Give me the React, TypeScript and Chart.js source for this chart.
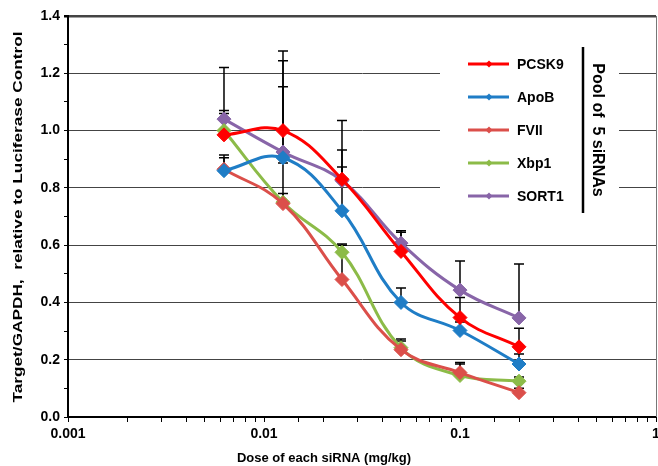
import React, { useEffect, useRef } from "react";
import { Chart, registerables } from "chart.js";

Chart.register(...registerables);

const doses = [0.00625, 0.0125, 0.025, 0.05, 0.1, 0.2];
const seriesNames = ["PCSK9", "ApoB", "FVII", "Xbp1", "SORT1"];
const seriesColors = ["#FF0000", "#1F7DC6", "#DB4F4A", "#8CBB48", "#8865A8"];

const pcsk9 = [0.985, 1.0, 0.83, 0.578, 0.347, 0.245];
const apob = [0.86, 0.905, 0.72, 0.4, 0.302, 0.185];
const fvii = [0.865, 0.745, 0.48, 0.235, 0.155, 0.085];
const xbp1 = [1.0, 0.75, 0.575, 0.242, 0.145, 0.125];
const sort1 = [1.04, 0.925, 0.825, 0.607, 0.443, 0.346];

const pcsk9Err = [0.075, 0.278, 0.205, 0.067, 0.07, 0.065];
const apobErr = [0.045, 0.248, 0.153, 0.05, 0.03, 0.035];
const fviiErr = [0.05, 0.142, 0.12, 0.03, 0.035, 0.015];
const xbp1Err = [0.07, 0.03, 0.029, 0.03, 0.04, 0.015];
const sort1Err = [0.18, 0.319, 0.107, 0.043, 0.102, 0.188];

const yTicks = [0, 0.2, 0.4, 0.6, 0.8, 1.0, 1.2, 1.4];
const xTickLabels = ["0.001", "0.01", "0.1", "1"];
const legendNote = "Pool of  5 siRNAs";
const yTitle = "Target/GAPDH,  relative to Luciferase Control";
const xTitle = "Dose of each siRNA (mg/kg)";

const allValues = [pcsk9, apob, fvii, xbp1, sort1];
const allErrors = [pcsk9Err, apobErr, fviiErr, xbp1Err, sort1Err];

const FONT = "'Liberation Sans', Arial, sans-serif";
const CANVAS_W = 664;

export default function App() {
  const ref = useRef<HTMLCanvasElement | null>(null);

  useEffect(() => {
    const canvas = ref.current;
    if (!canvas) return;

    const errorBars = {
      id: "errorBars",
      beforeDatasetsDraw(chart: any) {
        const ctx = chart.ctx;
        const xs = chart.scales.x;
        const ys = chart.scales.y;
        ctx.save();
        ctx.strokeStyle = "#000";
        ctx.lineWidth = 1.5;
        allValues.forEach((vals, si) => {
          const errs = allErrors[si];
          vals.forEach((v, i) => {
            const e = errs[i];
            if (!e) return;
            const px = xs.getPixelForValue(doses[i]);
            const y0 = ys.getPixelForValue(v);
            const y1 = ys.getPixelForValue(v + e);
            ctx.beginPath();
            ctx.moveTo(px, y0);
            ctx.lineTo(px, y1);
            ctx.moveTo(px - 5, y1);
            ctx.lineTo(px + 5, y1);
            ctx.stroke();
          });
        });
        ctx.restore();
      },
    };

    const legendBox = {
      id: "legendBox",
      beforeDatasetsDraw(chart: any) {
        const ctx = chart.ctx;
        ctx.save();
        ctx.fillStyle = "#fff";
        ctx.fillRect(440, 28, 179, 208);
        seriesNames.forEach((name, i) => {
          const y = 64 + i * 33;
          ctx.strokeStyle = seriesColors[i];
          ctx.lineWidth = 3;
          ctx.beginPath();
          ctx.moveTo(468, y);
          ctx.lineTo(509, y);
          ctx.stroke();
          ctx.fillStyle = seriesColors[i];
          ctx.beginPath();
          ctx.moveTo(489, y - 3.5);
          ctx.lineTo(492.5, y);
          ctx.lineTo(489, y + 3.5);
          ctx.lineTo(485.5, y);
          ctx.closePath();
          ctx.fill();
          ctx.fillStyle = "#000";
          ctx.font = `bold 14px ${FONT}`;
          ctx.textAlign = "left";
          ctx.textBaseline = "middle";
          ctx.fillText(name, 517, y + 1);
        });
        ctx.strokeStyle = "#000";
        ctx.lineWidth = 2.5;
        ctx.beginPath();
        ctx.moveTo(583, 47);
        ctx.lineTo(583, 213);
        ctx.stroke();
        ctx.translate(597, 130);
        ctx.rotate(Math.PI / 2);
        ctx.fillStyle = "#000";
        ctx.font = `bold 16px ${FONT}`;
        ctx.textAlign = "center";
        ctx.textBaseline = "middle";
        ctx.fillText(legendNote, 0, 0);
        ctx.restore();

        // right frame
        const a = chart.chartArea;
        ctx.save();
        ctx.strokeStyle = "#777";
        ctx.lineWidth = 1;
        ctx.beginPath();
        ctx.moveTo(a.right + 0.5, a.top);
        ctx.lineTo(a.right + 0.5, a.bottom);
        ctx.stroke();
        ctx.restore();
      },
      afterDraw(chart: any) {
        const ctx = chart.ctx;
        ctx.save();
        ctx.font = `bold 13px ${FONT}`;
        const w = ctx.measureText(yTitle).width;
        const sx = 371 / w;
        ctx.translate(18, 217);
        ctx.rotate(-Math.PI / 2);
        ctx.scale(sx, 1);
        ctx.fillStyle = "#000";
        ctx.textAlign = "center";
        ctx.textBaseline = "middle";
        ctx.fillText(yTitle, 0, 0);
        ctx.restore();

        ctx.save();
        ctx.font = `bold 13px ${FONT}`;
        ctx.fillStyle = "#000";
        ctx.textAlign = "center";
        ctx.textBaseline = "middle";
        ctx.fillText(xTitle, 324, 458);
        ctx.restore();
      },
    };

    const isMajorY = (v: number) => yTicks.some((t) => Math.abs(t - v) < 1e-6);

    const chart = new Chart(canvas, {
      type: "line",
      data: {
        datasets: seriesNames.map((name, i) => ({
          label: name,
          data: allValues[i].map((v, j) => ({ x: doses[j], y: v })),
          borderColor: seriesColors[i],
          backgroundColor: seriesColors[i],
          borderWidth: 3,
          pointStyle: "rectRot",
          pointRadius: 7,
          pointBorderWidth: 1,
          tension: 0.4,
          fill: false,
        })),
      },
      options: {
        responsive: false,
        animation: false,
        layout: { padding: { top: 16, right: 0, left: 0, bottom: 0 } },
        plugins: {
          legend: { display: false },
          tooltip: { enabled: false },
        },
        scales: {
          x: {
            type: "logarithmic",
            min: 0.001,
            max: 1,
            afterFit: (s: any) => {
              s.height = 49;
              s.paddingLeft = 0;
              s.paddingRight = 0;
            },
            border: { color: "#000", width: 2 },
            grid: {
              drawOnChartArea: false,
              color: "#000",
              tickLength: 5,
            },
            ticks: {
              autoSkip: false,
              maxRotation: 0,
              padding: 4,
              color: "#000",
              font: { family: FONT, weight: "bold", size: 14 },
              callback: (value: any) => {
                const v = Number(value);
                const lbl = xTickLabels.find((t) => Math.abs(Number(t) - v) < v * 1e-6);
                return lbl ?? "";
              },
            },
            title: { display: false },
          },
          y: {
            min: 0,
            max: 1.4,
            afterFit: (s: any) => {
              s.width = 68;
              s.paddingTop = 0;
              s.paddingBottom = 0;
            },
            border: { color: "#000", width: 2 },
            grid: {
              color: (c: any) => (c.tick && isMajorY(c.tick.value) ? "#444" : "rgba(0,0,0,0)"),
              lineWidth: (c: any) => (c.tick && Math.abs(c.tick.value - 1.4) < 1e-6 ? 2.5 : 1),
              tickColor: "#000",
              tickLength: 4,
            },
            ticks: {
              stepSize: 0.1,
              autoSkip: false,
              padding: 4,
              color: "#000",
              font: { family: FONT, weight: "bold", size: 14 },
              callback: (value: any) => {
                const v = Number(value);
                return isMajorY(v) ? v.toFixed(1) : "";
              },
            },
            title: { display: false },
          },
        },
      },
      plugins: [legendBox, errorBars],
    } as any);

    return () => chart.destroy();
  }, []);

  return (
    <div
      style={{
        position: "fixed",
        left: 0,
        top: 0,
        width: 658,
        height: 466,
        overflow: "hidden",
        background: "#fff",
      }}
    >
      <canvas ref={ref} width={CANVAS_W} height={466} style={{ width: CANVAS_W, height: 466, display: "block" }} />
    </div>
  );
}
